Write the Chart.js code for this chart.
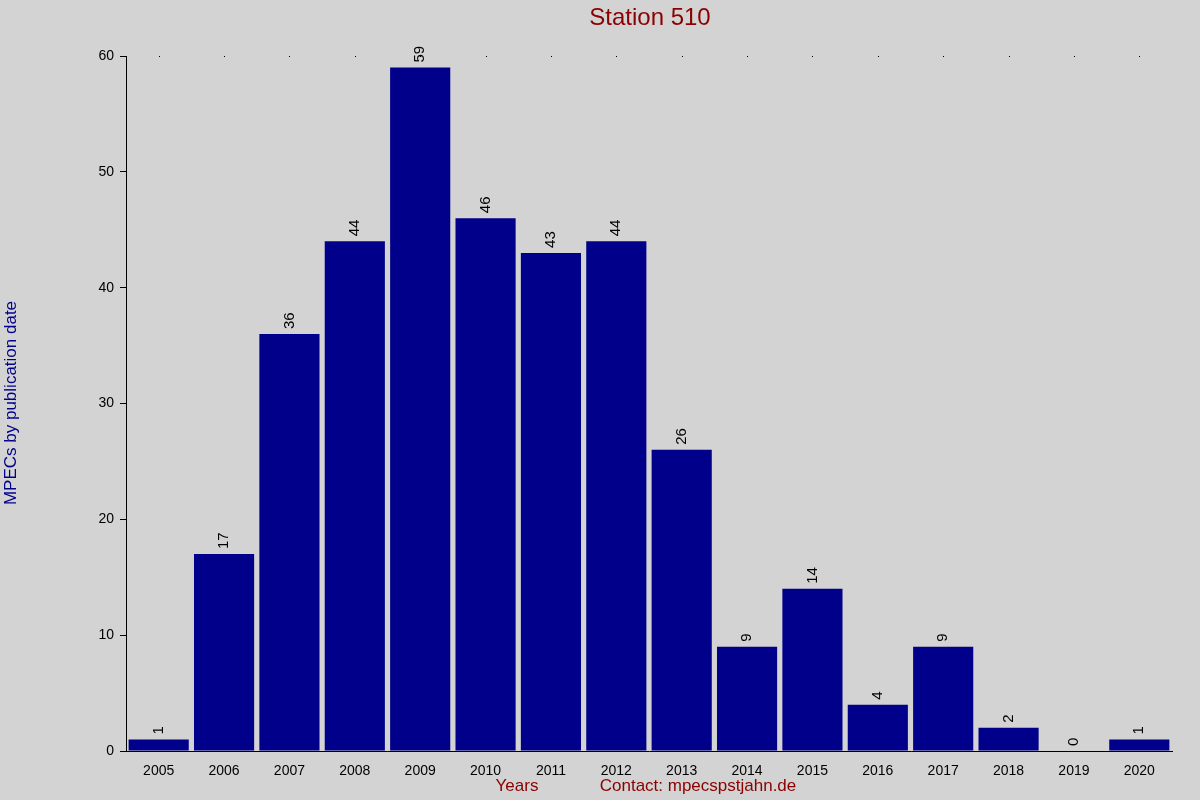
<!DOCTYPE html>
<html><head><meta charset="utf-8">
<script src="https://cdn.jsdelivr.net/npm/chart.js@4/dist/chart.umd.min.js"></script>
<style>html,body{margin:0;padding:0;background:#d3d3d3}canvas{display:block}</style>
</head><body>
<div style="width:1200px;height:800px"><canvas id="c"></canvas></div>
<script>
const years = ['2005','2006','2007','2008','2009','2010','2011','2012','2013','2014','2015','2016','2017','2018','2019','2020'];
const counts = [1,17,36,44,59,46,43,44,26,9,14,4,9,2,0,1];
const yTicks = [0,10,20,30,40,50,60];
const titleText = 'Station 510';
const yTitle = 'MPECs by publication date';
const xTitle = 'Years';
const contact = 'Contact: mpecspstjahn.de';
const FONT = 'Liberation Sans, Arial, sans-serif';

const deco = {
  id: 'deco',
  beforeDraw(c) {
    const ctx = c.ctx; ctx.save(); ctx.fillStyle = '#d3d3d3'; ctx.fillRect(0,0,c.width,c.height); ctx.restore();
  },
  afterDraw(c) {
    const ctx = c.ctx, a = c.chartArea, x = c.scales.x, y = c.scales.y;
    ctx.save();
    ctx.fillStyle = '#000';
    years.forEach((_, i) => { ctx.fillRect(Math.round(x.getPixelForValue(i)), a.top, 1, 1); });
    ctx.font = '15px ' + FONT;
    ctx.textBaseline = 'middle'; ctx.textAlign = 'left';
    counts.forEach((v, i) => {
      const px = x.getPixelForValue(i), py = y.getPixelForValue(v);
      ctx.save(); ctx.translate(px, py - 5); ctx.rotate(-Math.PI/2); ctx.fillText(String(v), 0, 0); ctx.restore();
    });
    ctx.fillStyle = '#8b0000'; ctx.textAlign = 'center';
    ctx.font = '24px ' + FONT; ctx.fillText(titleText, 650, 18);
    ctx.font = '17px ' + FONT;
    ctx.fillText(xTitle, 517, 786);
    ctx.fillText(contact, 698, 786);
    ctx.fillStyle = '#00008b';
    ctx.save(); ctx.translate(11, 403); ctx.rotate(-Math.PI/2); ctx.fillText(yTitle, 0, 0); ctx.restore();
    ctx.restore();
  }
};

new Chart(document.getElementById('c'), {
  type: 'bar',
  data: { labels: years, datasets: [{ data: counts, backgroundColor: '#00008b', barPercentage: 0.92, categoryPercentage: 1 }] },
  options: {
    responsive: true, maintainAspectRatio: false, animation: false,
    layout: { padding: { top: 56, right: 28, left: 0, bottom: 0 } },
    plugins: { legend: { display: false }, tooltip: { enabled: false } },
    scales: {
      x: {
        grid: { display: false }, border: { display: true, color: '#000' },
        ticks: { color: '#000', font: { size: 14, family: FONT }, maxRotation: 0, padding: 4 },
        afterFit(s) { s.height = 49; }
      },
      y: {
        min: 0, max: 60, afterBuildTicks(s) { s.ticks = yTicks.map(v => ({ value: v })); },
        grid: { drawOnChartArea: false, drawTicks: true, tickLength: 6, color: '#000' },
        border: { display: true, color: '#000' },
        ticks: { color: '#000', font: { size: 14, family: FONT }, padding: 6 },
        afterFit(s) { s.width = 126; }
      }
    }
  },
  plugins: [deco]
});
</script>
</body></html>
